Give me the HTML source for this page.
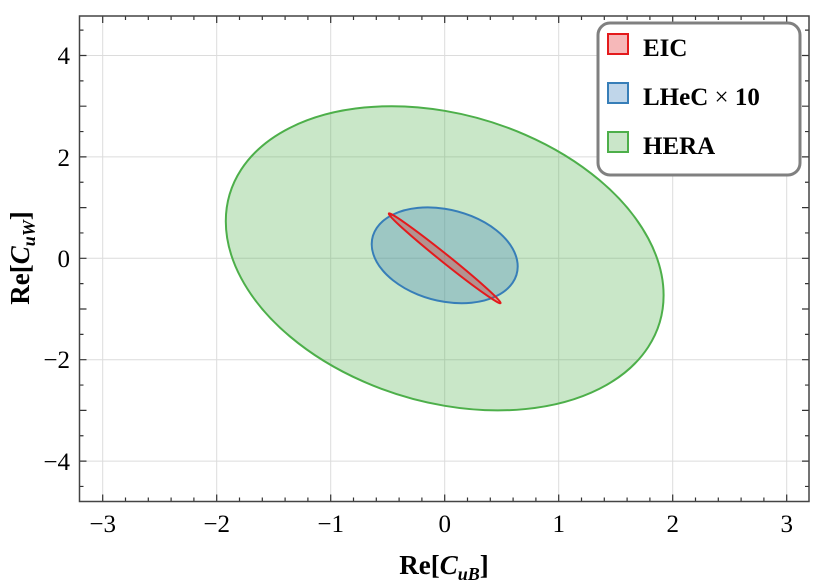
<!DOCTYPE html>
<html><head><meta charset="utf-8"><style>
body{margin:0;background:#fff;}
svg{display:block;font-family:"Liberation Serif",serif;}
</style></head><body>
<svg width="831" height="585" viewBox="0 0 831 585">
<g stroke="#dcdcdc" stroke-width="1">
<line x1="102.7" y1="16" x2="102.7" y2="501.5"/><line x1="216.7" y1="16" x2="216.7" y2="501.5"/><line x1="330.7" y1="16" x2="330.7" y2="501.5"/><line x1="444.7" y1="16" x2="444.7" y2="501.5"/><line x1="558.7" y1="16" x2="558.7" y2="501.5"/><line x1="672.7" y1="16" x2="672.7" y2="501.5"/><line x1="786.7" y1="16" x2="786.7" y2="501.5"/>
<line x1="79.5" y1="55.5" x2="809" y2="55.5"/><line x1="79.5" y1="156.9" x2="809" y2="156.9"/><line x1="79.5" y1="258.3" x2="809" y2="258.3"/><line x1="79.5" y1="359.7" x2="809" y2="359.7"/><line x1="79.5" y1="461.1" x2="809" y2="461.1"/>
</g>
<circle r="1" fill="#4daf4a" fill-opacity="0.3" stroke="#4daf4a" stroke-width="2" vector-effect="non-scaling-stroke" transform="matrix(218.9,37.0,0,-147.5,444.7,258.3)"/>
<circle r="1" fill="#377eb8" fill-opacity="0.3" stroke="#377eb8" stroke-width="2" vector-effect="non-scaling-stroke" transform="matrix(73,11.15,0,-46.6,444.7,255.3)"/>
<circle r="1" fill="#e41a1c" fill-opacity="0.3" stroke="#e41a1c" stroke-width="2" vector-effect="non-scaling-stroke" transform="matrix(55.9,44.6,0,-5.3,444.7,258.3)"/>
<path stroke="#333" stroke-width="1.2" fill="none" d="
M102.7 501.5v-7M102.7 16v7 M125.5 501.5v-4M125.5 16v4 M148.3 501.5v-4M148.3 16v4 M171.1 501.5v-4M171.1 16v4 M193.9 501.5v-4M193.9 16v4
M216.7 501.5v-7M216.7 16v7 M239.5 501.5v-4M239.5 16v4 M262.3 501.5v-4M262.3 16v4 M285.1 501.5v-4M285.1 16v4 M307.9 501.5v-4M307.9 16v4
M330.7 501.5v-7M330.7 16v7 M353.5 501.5v-4M353.5 16v4 M376.3 501.5v-4M376.3 16v4 M399.1 501.5v-4M399.1 16v4 M421.9 501.5v-4M421.9 16v4
M444.7 501.5v-7M444.7 16v7 M467.5 501.5v-4M467.5 16v4 M490.3 501.5v-4M490.3 16v4 M513.1 501.5v-4M513.1 16v4 M535.9 501.5v-4M535.9 16v4
M558.7 501.5v-7M558.7 16v7 M581.5 501.5v-4M581.5 16v4 M604.3 501.5v-4M604.3 16v4 M627.1 501.5v-4M627.1 16v4 M649.9 501.5v-4M649.9 16v4
M672.7 501.5v-7M672.7 16v7 M695.5 501.5v-4M695.5 16v4 M718.3 501.5v-4M718.3 16v4 M741.1 501.5v-4M741.1 16v4 M763.9 501.5v-4M763.9 16v4
M786.7 501.5v-7M786.7 16v7
M79.5 30.15h4M809 30.15h-4 M79.5 55.5h7M809 55.5h-7 M79.5 80.85h4M809 80.85h-4 M79.5 106.2h7M809 106.2h-7 M79.5 131.55h4M809 131.55h-4
M79.5 156.9h7M809 156.9h-7 M79.5 182.25h4M809 182.25h-4 M79.5 207.6h7M809 207.6h-7 M79.5 232.95h4M809 232.95h-4 M79.5 258.3h7M809 258.3h-7
M79.5 283.65h4M809 283.65h-4 M79.5 309h7M809 309h-7 M79.5 334.35h4M809 334.35h-4 M79.5 359.7h7M809 359.7h-7 M79.5 385.05h4M809 385.05h-4
M79.5 410.4h7M809 410.4h-7 M79.5 435.75h4M809 435.75h-4 M79.5 461.1h7M809 461.1h-7 M79.5 486.45h4M809 486.45h-4"/>
<rect x="79.5" y="16" width="729.5" height="485.5" fill="none" stroke="#444" stroke-width="1.5"/>
<g font-size="25" fill="#000" text-anchor="middle">
<text x="102.7" y="532">−3</text><text x="216.7" y="532">−2</text><text x="330.7" y="532">−1</text><text x="444.7" y="532">0</text><text x="558.7" y="532">1</text><text x="672.7" y="532">2</text><text x="786.7" y="532">3</text>
</g>
<g font-size="25" fill="#000" text-anchor="end">
<text x="70" y="64">4</text><text x="70" y="166">2</text><text x="70" y="267">0</text><text x="70" y="368">−2</text><text x="70" y="470">−4</text>
</g>
<text x="444" y="574" font-size="27" font-weight="bold" text-anchor="middle">Re[<tspan font-style="italic">C</tspan><tspan font-style="italic" font-size="18" dy="6">uB</tspan><tspan dy="-6">]</tspan></text>
<text transform="translate(29,258) rotate(-90)" font-size="27" font-weight="bold" text-anchor="middle">Re[<tspan font-style="italic">C</tspan><tspan font-style="italic" font-size="18" dy="6">uW</tspan><tspan dy="-6">]</tspan></text>
<rect x="598" y="23" width="202" height="152" rx="12" fill="#fff" stroke="#808080" stroke-width="3"/>
<rect x="608" y="34" width="20" height="20" fill="#f6b8b9" stroke="#e41a1c" stroke-width="2"/>
<rect x="608" y="83" width="20" height="20" fill="#c0d6ea" stroke="#377eb8" stroke-width="2"/>
<rect x="608" y="132" width="20" height="20" fill="#cae6c9" stroke="#4daf4a" stroke-width="2"/>
<g font-size="25" font-weight="bold" fill="#000">
<text x="643" y="56">EIC</text><text x="643" y="105">LHeC <tspan font-weight="normal">×</tspan> 10</text><text x="643" y="154">HERA</text>
</g>
</svg>
</body></html>
